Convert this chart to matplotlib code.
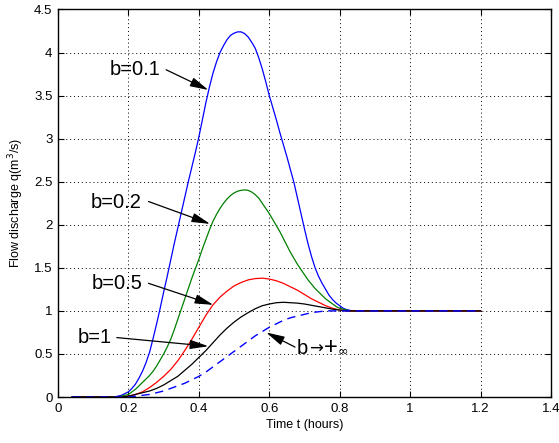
import matplotlib
matplotlib.use("Agg")
import matplotlib.pyplot as plt

plt.rcParams['font.family'] = ['Liberation Sans', 'DejaVu Sans']

# time (hours) and flow discharge q (m3/s)
t_01 = [0.04, 0.10, 0.16, 0.17, 0.18, 0.19, 0.20, 0.21, 0.22, 0.23, 0.24, 0.25, 0.26, 0.27,
        0.28, 0.29, 0.30, 0.31, 0.32, 0.33, 0.34, 0.35, 0.36, 0.37, 0.38, 0.39, 0.40,
        0.41, 0.42, 0.43, 0.44, 0.45, 0.46, 0.47, 0.48, 0.49, 0.50, 0.51, 0.52, 0.53,
        0.54, 0.55, 0.56, 0.57, 0.58, 0.59, 0.60, 0.61, 0.62, 0.63, 0.64, 0.65, 0.66,
        0.67, 0.68, 0.69, 0.70, 0.71, 0.72, 0.73, 0.74, 0.75, 0.76, 0.77, 0.78, 0.79,
        0.80, 0.81, 0.82, 0.83, 0.84, 1.20]
q_01 = [0.00, 0.00, 0.00, 0.01, 0.02, 0.04, 0.06, 0.10, 0.15, 0.22, 0.30, 0.40, 0.52, 0.68,
        0.85, 1.03, 1.22, 1.40, 1.59, 1.78, 1.96, 2.14, 2.32, 2.50, 2.67, 2.84, 3.02,
        3.22, 3.42, 3.60, 3.76, 3.89, 4.00, 4.08, 4.15, 4.20, 4.225, 4.24, 4.24, 4.22,
        4.18, 4.12, 4.05, 3.94, 3.81, 3.66, 3.50, 3.36, 3.22, 3.07, 2.93, 2.79, 2.64,
        2.49, 2.31, 2.13, 1.95, 1.78, 1.63, 1.50, 1.40, 1.32, 1.25, 1.18, 1.13, 1.09,
        1.06, 1.03, 1.015, 1.005, 1.00, 1.00]

t_02 = [0.04, 0.10, 0.16, 0.17, 0.18, 0.19, 0.20, 0.21, 0.22, 0.23, 0.24, 0.25, 0.26, 0.27,
        0.28, 0.29, 0.30, 0.31, 0.32, 0.33, 0.34, 0.35, 0.36, 0.37, 0.38, 0.39, 0.40,
        0.41, 0.42, 0.43, 0.44, 0.45, 0.46, 0.47, 0.48, 0.49, 0.50, 0.51, 0.52, 0.53,
        0.54, 0.55, 0.56, 0.57, 0.58, 0.59, 0.60, 0.61, 0.62, 0.63, 0.64, 0.65, 0.66,
        0.67, 0.68, 0.69, 0.70, 0.71, 0.72, 0.73, 0.74, 0.75, 0.76, 0.77, 0.78, 0.79,
        0.80, 0.81, 0.82, 0.83, 1.20]
q_02 = [0.00, 0.00, 0.00, 0.00, 0.01, 0.02, 0.03, 0.06, 0.09, 0.13, 0.17, 0.21, 0.25, 0.30,
        0.36, 0.43, 0.50, 0.58, 0.67, 0.78, 0.90, 1.02, 1.14, 1.26, 1.38, 1.49, 1.60,
        1.72, 1.83, 1.94, 2.04, 2.12, 2.19, 2.25, 2.30, 2.34, 2.37, 2.39, 2.40, 2.405,
        2.40, 2.38, 2.35, 2.31, 2.25, 2.19, 2.13, 2.06, 1.99, 1.92, 1.84, 1.76, 1.68,
        1.61, 1.54, 1.48, 1.42, 1.36, 1.31, 1.26, 1.22, 1.18, 1.14, 1.11, 1.08, 1.05,
        1.03, 1.02, 1.01, 1.00, 1.00]

t_05 = [0.04, 0.10, 0.17, 0.18, 0.20, 0.22, 0.24, 0.26, 0.28, 0.30, 0.32, 0.34, 0.36, 0.38,
        0.40, 0.42, 0.44, 0.46, 0.48, 0.50, 0.52, 0.54, 0.56, 0.58, 0.60, 0.62, 0.64,
        0.66, 0.68, 0.70, 0.72, 0.74, 0.76, 0.78, 0.80, 0.82, 1.20]
q_05 = [0.00, 0.00, 0.00, 0.00, 0.01, 0.03, 0.06, 0.11, 0.17, 0.24, 0.32, 0.42, 0.54, 0.67,
        0.81, 0.95, 1.07, 1.16, 1.23, 1.29, 1.33, 1.36, 1.375, 1.38, 1.37, 1.35, 1.32,
        1.28, 1.24, 1.19, 1.14, 1.10, 1.06, 1.03, 1.01, 1.00, 1.00]

t_1 = [0.04, 0.10, 0.16, 0.18, 0.20, 0.22, 0.24, 0.26, 0.28, 0.30, 0.32, 0.34, 0.36, 0.38,
       0.40, 0.42, 0.44, 0.46, 0.48, 0.50, 0.52, 0.54, 0.56, 0.58, 0.60, 0.62, 0.64,
       0.66, 0.68, 0.70, 0.72, 0.74, 0.76, 0.78, 0.80, 0.82, 1.20]
q_1 = [0.00, 0.00, 0.00, 0.00, 0.01, 0.03, 0.05, 0.07, 0.10, 0.14, 0.19, 0.24, 0.31, 0.38,
       0.46, 0.54, 0.63, 0.72, 0.80, 0.87, 0.93, 0.98, 1.025, 1.06, 1.08, 1.095, 1.10,
       1.095, 1.09, 1.08, 1.065, 1.05, 1.035, 1.02, 1.01, 1.00, 1.00]

t_inf = [0.04, 0.10, 0.16, 0.20, 0.22, 0.24, 0.26, 0.28, 0.30, 0.32, 0.34, 0.36, 0.38,
         0.40, 0.42, 0.44, 0.46, 0.48, 0.50, 0.52, 0.54, 0.56, 0.58, 0.60, 0.62, 0.64,
         0.66, 0.68, 0.70, 0.72, 0.74, 0.76, 0.80, 1.20]
q_inf = [0.00, 0.00, 0.00, 0.00, 0.01, 0.02, 0.03, 0.05, 0.07, 0.10, 0.13, 0.16, 0.20,
         0.24, 0.29, 0.35, 0.41, 0.47, 0.53, 0.59, 0.65, 0.71, 0.76, 0.81, 0.85, 0.89,
         0.92, 0.94, 0.96, 0.98, 0.99, 1.00, 1.00, 1.00]

x_ticks = [0, 0.2, 0.4, 0.6, 0.8, 1.0, 1.2, 1.4]
x_labels = ["0", "0.2", "0.4", "0.6", "0.8", "1", "1.2", "1.4"]
y_ticks = [0, 0.5, 1, 1.5, 2, 2.5, 3, 3.5, 4, 4.5]
y_labels = ["0", "0.5", "1", "1.5", "2", "2.5", "3", "3.5", "4", "4.5"]

# label text, text centre, arrow tail, arrow head
notes = [
    ("b=0.1", (0.219, 3.80), (0.307, 3.80), (0.427, 3.565)),
    ("b=0.2", (0.166, 2.26), (0.257, 2.27), (0.432, 2.01)),
    ("b=0.5", (0.169, 1.32), (0.257, 1.32), (0.441, 1.07)),
    ("b=1", (0.105, 0.69), (0.167, 0.69), (0.427, 0.59)),
]

fig = plt.figure(figsize=(5.59, 4.43), dpi=100)
ax = fig.add_axes([0.1038, 0.1038, 0.8819, 0.8748])

ax.plot(t_01, q_01, color="#0000ff", lw=0.9)
ax.plot(t_02, q_02, color="#008000", lw=0.9)
ax.plot(t_05, q_05, color="#ff0000", lw=0.9)
ax.plot(t_1, q_1, color="black", lw=0.9)
ax.plot(t_inf, q_inf, color="#0000ff", lw=1.0, linestyle=(0, (6, 4)))

ax.set_xlim(0, 1.4)
ax.set_ylim(0, 4.5)
ax.set_xticks(x_ticks)
ax.set_xticklabels(x_labels)
ax.set_yticks(y_ticks)
ax.set_yticklabels(y_labels)
ax.tick_params(direction="in", top=True, right=True, length=4, width=0.8,
               labelsize=9.5, pad=4)
ax.grid(True, color="black", linestyle=(0, (1, 3)), linewidth=0.7)
for sp in ax.spines.values():
    sp.set_linewidth(1.0)

ax.set_xlabel("Time t (hours)", fontsize=9, labelpad=3)
ax.set_ylabel("Flow discharge q(m$^3$/s)", fontsize=9, labelpad=6)

arrow = dict(arrowstyle="-|>,head_length=0.8,head_width=0.2", color="black",
             lw=0.9, shrinkA=0, shrinkB=0, mutation_scale=14)
for label, txt, tail, head in notes:
    ax.text(txt[0], txt[1], label, fontsize=14.5, ha="center", va="center")
    ax.annotate("", xy=head, xytext=tail, arrowprops=arrow)

# b -> +inf, built from pieces sitting on one baseline
base = 0.50
prev = ax.text(0.678, base, "b", fontsize=14.5, ha="left", va="baseline")
for piece, size, fam, gap in [("\u2192", 12, ["DejaVu Sans"], 1.0),
                              ("+", 17, ["Liberation Sans"], 0.5),
                              ("\u221e", 9, ["DejaVu Sans"], 0.0)]:
    prev = ax.annotate(piece, xy=(1, base), xycoords=(prev, "data"),
                       xytext=(gap, 0), textcoords="offset points",
                       fontsize=size, family=fam, ha="left", va="baseline")
ax.annotate("", xy=(0.591, 0.75), xytext=(0.673, 0.58), arrowprops=arrow)

fig.savefig("out.png", dpi=100)
